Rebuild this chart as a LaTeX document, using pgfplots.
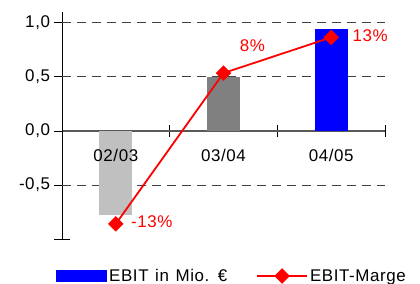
\documentclass[border=0pt]{standalone}
\usepackage{pgfplots}
\pgfplotsset{compat=1.18}
\usepackage{fontspec}
\setmainfont{Liberation Sans}[LetterSpace=3.5, WordSpace=1.25]
\definecolor{lgray}{HTML}{C0C0C0}
\definecolor{mgray}{HTML}{808080}
\definecolor{gridc}{HTML}{404040}
\pgfplotsset{
  barlegend/.style={legend image code/.code={\path[##1] (0bp,-6.3bp) rectangle (51bp,6.3bp);}},
  linelegend/.style={legend image code/.code={\draw[mark repeat=2, mark phase=2, ##1] plot coordinates {(0bp,0bp) (25bp,0bp) (50bp,0bp)};}},
  frame/.style={
    at={(62bp,45bp)}, anchor=south west,
    scale only axis, width=323bp, height=227bp,
    xmin=0, xmax=3, ymin=-1, ymax=1.10,
    axis x line*=middle, axis y line*=left,
    hide obscured x ticks=false, hide obscured y ticks=false,
    clip=false,
  },
}
\begin{document}
\begin{tikzpicture}[font=\fontsize{17}{20}\selectfont]
\useasboundingbox (0,0) rectangle (420bp,284bp);
\begin{axis}[
  frame,
  xtick={0.5,1.5,2.5}, xticklabels={},
  major x tick style={draw=none},
  minor xtick={1,2,3},
  minor tick length=12bp,
  major tick length=15bp,
  tick align=center,
  tick style={black, line width=0.8bp},
  ytick={-1,-0.5,0,0.5,1},
  yticklabels={,{-0,5},{0,0},{0,5},{1,0}},
  yticklabel style={xshift=-1bp},
  extra y ticks={-0.5,0.5,1}, extra y tick labels={},
  extra y tick style={grid=major, major tick length=0pt,
     major grid style={gridc, dash pattern=on 9bp off 6bp, line width=0.8bp}},
  x axis line style={draw=gray!70!black, line width=1.2bp},
  y axis line style={line width=0.9bp},
  legend columns=2,
  legend cell align=left,
  legend style={at={(-0.0186,-0.163)}, anchor=west, draw=none, fill=none,
     inner sep=0pt, /tikz/every even column/.append style={column sep=27bp},
     nodes={inner sep=2bp}},
]
\addplot[ybar, bar width=33bp, bar shift=0pt, fill=lgray, draw=none, forget plot] coordinates {(0.5,-0.775)};
\addplot[ybar, bar width=33bp, bar shift=0pt, fill=mgray, draw=none, forget plot] coordinates {(1.5,0.5)};
\addplot[ybar, bar width=33bp, bar shift=0pt, fill=blue, draw=none, barlegend] coordinates {(2.5,0.945)};
\addlegendentry{EBIT in Mio. €}
\addplot[red, line width=1.8bp, mark=square*, mark size=4.6bp,
  mark options={rotate=45, solid},
  point meta=explicit symbolic,
  nodes near coords={\pgfplotspointmeta\%},
  visualization depends on={\thisrow{dx}\as\myDx},
  visualization depends on={\thisrow{dy}\as\myDy},
  every node near coord/.append style={anchor=center, xshift=\myDx bp, yshift=\myDy bp, text=red},
  linelegend
] table[meta=lbl] {
x y lbl dx dy
0.5 -0.86 -13 36 2
1.5 0.535 8 29 27
2.5 0.865 13 39 2
};
\addlegendentry{EBIT-Marge}
\end{axis}
\begin{axis}[
  frame,
  axis line style={draw=none},
  ytick=\empty,
  xtick={0.5,1.5,2.5}, xticklabels={02/03,03/04,04/05},
  major tick length=0pt,
  xticklabel style={yshift=-15bp},
]
\end{axis}
\end{tikzpicture}
\end{document}
